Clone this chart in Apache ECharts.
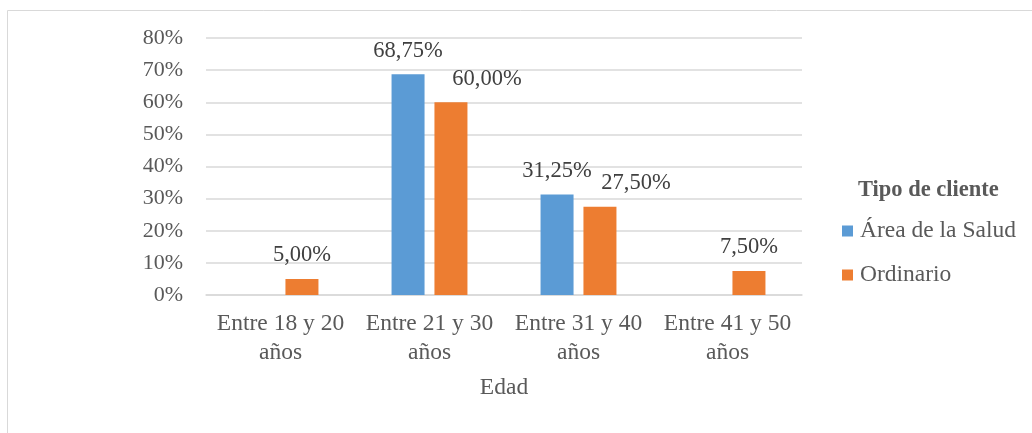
<!DOCTYPE html>
<html>
<head>
<meta charset="utf-8">
<style>
  html, body { margin: 0; padding: 0; background: #fff; }
  #chart { width: 1032px; height: 433px; }
</style>
<script src="https://cdn.jsdelivr.net/npm/echarts@6/dist/echarts.min.js"></script>
</head>
<body>
<div id="chart"></div>
<script>
// Age groups and share of clients per type (percent)
const categories = ['Entre 18 y 20 años', 'Entre 21 y 30 años', 'Entre 31 y 40 años', 'Entre 41 y 50 años'];
const seriesNames = ['Área de la Salud', 'Ordinario'];
const areaSalud = [0, 68.75, 31.25, 0];
const ordinario = [5.00, 60.00, 27.50, 7.50];
const yTicks = [0, 10, 20, 30, 40, 50, 60, 70, 80];

const FONT = '"Liberation Serif", "Times New Roman", serif';
const AXIS_GRAY = '#595959';
const LABEL_GRAY = '#404040';

const fmtPct = v => v.toFixed(2).replace('.', ',') + '%';

// Orange labels nudged right in the two groups where they would collide
const orangeLabelShift = { 1: 36, 2: 36 };

function buildData(values, shifts) {
  return values.map((v, i) => {
    const item = { value: v };
    if (shifts && shifts[i] !== undefined) {
      item.label = { offset: [shifts[i], 0] };
    }
    return item;
  });
}

const barLabel = {
  show: true,
  position: 'top',
  distance: 12,
  fontFamily: FONT,
  fontSize: 22.5,
  color: LABEL_GRAY,
  formatter: p => (p.value ? fmtPct(p.value) : '')
};

const chart = echarts.init(document.getElementById('chart'), null, { renderer: 'canvas' });

chart.setOption({
  animation: false,
  textStyle: { fontFamily: FONT },
  graphic: [{
    type: 'rect',
    shape: { x: 7.5, y: 10.5, width: 1100, height: 500 },
    style: { fill: 'none', stroke: '#d9d9d9', lineWidth: 1 },
    silent: true,
    z: -10
  }],
  title: {
    text: 'Tipo de cliente',
    left: 858,
    top: 179,
    padding: 0,
    textStyle: { fontFamily: FONT, fontSize: 22.5, fontWeight: 'bold', color: AXIS_GRAY }
  },
  legend: {
    orient: 'vertical',
    left: 842,
    top: 219,
    padding: 0,
    itemWidth: 11,
    itemHeight: 11,
    itemGap: 20,
    icon: 'rect',
    data: seriesNames,
    textStyle: { fontFamily: FONT, fontSize: 23.5, color: AXIS_GRAY, padding: [0, 0, 0, 2] }
  },
  grid: { left: 206, right: 230, top: 38, bottom: 138, containLabel: false },
  xAxis: {
    type: 'category',
    data: categories,
    name: 'Edad',
    nameLocation: 'middle',
    nameGap: 81,
    nameTextStyle: { fontFamily: FONT, fontSize: 23.5, color: AXIS_GRAY },
    axisLine: { show: true, lineStyle: { color: '#d9d9d9', width: 1.5 } },
    axisTick: { show: false },
    axisLabel: {
      fontFamily: FONT,
      fontSize: 23.5,
      color: AXIS_GRAY,
      lineHeight: 29,
      margin: 14,
      interval: 0,
      formatter: s => s.replace(' años', '\naños')
    }
  },
  yAxis: {
    type: 'value',
    min: yTicks[0],
    max: yTicks[yTicks.length - 1],
    interval: yTicks[1] - yTicks[0],
    axisLine: { show: false },
    axisTick: { show: false },
    splitLine: { lineStyle: { color: '#d9d9d9', width: 1.5 } },
    axisLabel: {
      fontFamily: FONT,
      fontSize: 22,
      color: AXIS_GRAY,
      margin: 23,
      formatter: '{value}%'
    }
  },
  series: [
    {
      name: seriesNames[0],
      type: 'bar',
      data: buildData(areaSalud),
      barWidth: 33,
      barGap: '30%',
      itemStyle: { color: '#5B9BD5' },
      label: barLabel
    },
    {
      name: seriesNames[1],
      type: 'bar',
      data: buildData(ordinario, orangeLabelShift),
      barWidth: 33,
      barGap: '30%',
      itemStyle: { color: '#ED7D31' },
      label: barLabel
    }
  ]
});
</script>
</body>
</html>
